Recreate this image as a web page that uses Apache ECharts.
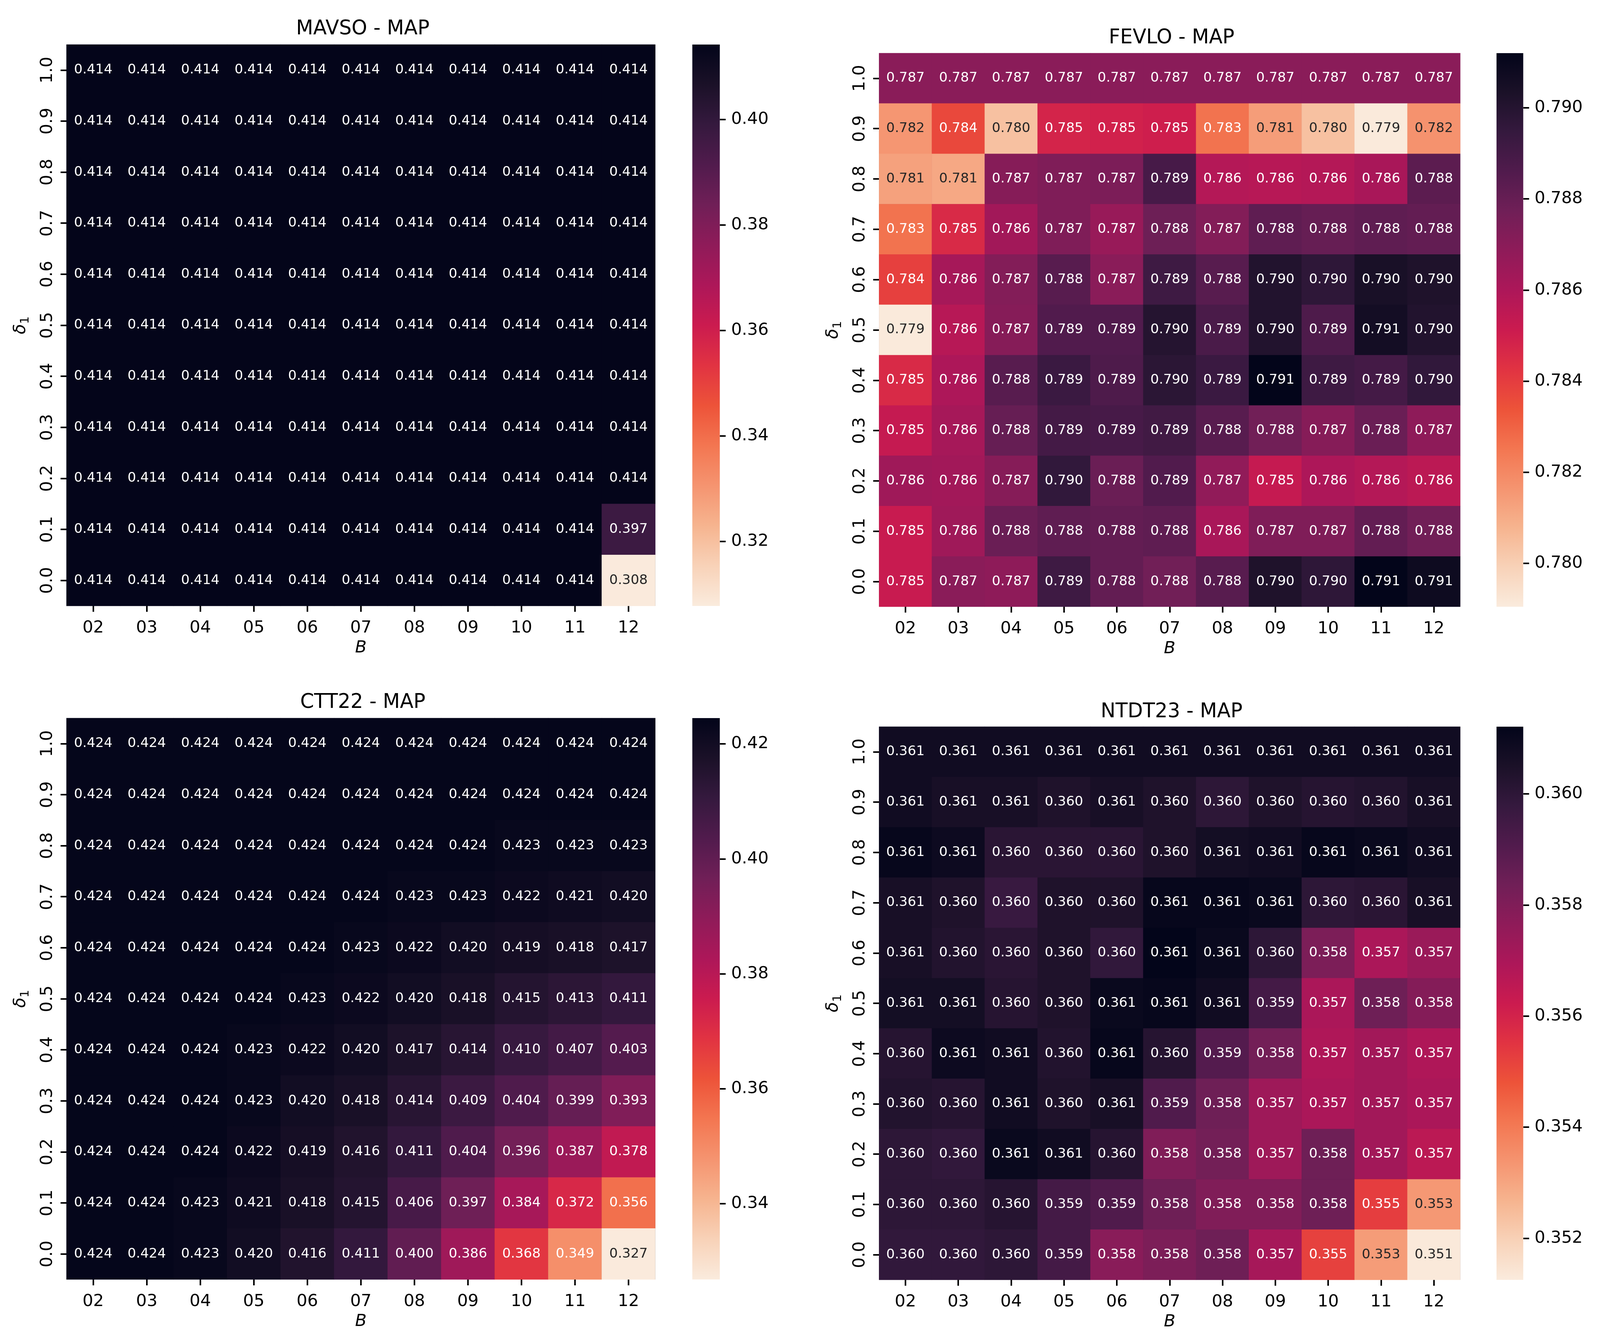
<!DOCTYPE html>
<html><head><meta charset="utf-8">
<style>html,body{margin:0;padding:0;background:#fff;overflow:hidden}#c{width:100vw;height:3435px}</style>
<script src="https://cdn.jsdelivr.net/npm/echarts@6/dist/echarts.min.js"></script>
</head><body><div id="c"></div>
<script>
const bLabels = ['02','03','04','05','06','07','08','09','10','11','12'];
const deltaLabels = ['1.0','0.9','0.8','0.7','0.6','0.5','0.4','0.3','0.2','0.1','0.0'];

const mavsoValues = [
 [.414,.414,.414,.414,.414,.414,.414,.414,.414,.414,.414],
 [.414,.414,.414,.414,.414,.414,.414,.414,.414,.414,.414],
 [.414,.414,.414,.414,.414,.414,.414,.414,.414,.414,.414],
 [.414,.414,.414,.414,.414,.414,.414,.414,.414,.414,.414],
 [.414,.414,.414,.414,.414,.414,.414,.414,.414,.414,.414],
 [.414,.414,.414,.414,.414,.414,.414,.414,.414,.414,.414],
 [.414,.414,.414,.414,.414,.414,.414,.414,.414,.414,.414],
 [.414,.414,.414,.414,.414,.414,.414,.414,.414,.414,.414],
 [.414,.414,.414,.414,.414,.414,.414,.414,.414,.414,.414],
 [.414,.414,.414,.414,.414,.414,.414,.414,.414,.414,.397],
 [.414,.414,.414,.414,.414,.414,.414,.414,.414,.414,.308]
];
const fevloValues = [
 [.7870,.7870,.7870,.7870,.7870,.7870,.7870,.7870,.7870,.7870,.7870],
 [.7816,.7837,.7804,.7848,.7849,.7850,.7826,.7814,.7804,.7791,.7817],
 [.7813,.7811,.7871,.7873,.7874,.7889,.7858,.7857,.7858,.7861,.7883],
 [.7826,.7846,.7863,.7873,.7866,.7878,.7872,.7882,.7880,.7882,.7881],
 [.7839,.7862,.7872,.7884,.7870,.7892,.7884,.7901,.7897,.7904,.7902],
 [.7791,.7857,.7871,.7886,.7886,.7900,.7888,.7901,.7887,.7906,.7901],
 [.7846,.7860,.7884,.7893,.7887,.7898,.7893,.7912,.7892,.7890,.7896],
 [.7853,.7862,.7880,.7890,.7889,.7891,.7884,.7877,.7871,.7879,.7869],
 [.7864,.7863,.7871,.7896,.7879,.7886,.7868,.7853,.7860,.7858,.7856],
 [.7852,.7864,.7879,.7882,.7881,.7882,.7861,.7873,.7873,.7881,.7877],
 [.7852,.7870,.7869,.7892,.7881,.7877,.7884,.7902,.7897,.7912,.7908]
];
const ctt22Values = [
 [.424,.424,.424,.424,.424,.424,.424,.424,.424,.424,.424],
 [.424,.424,.424,.424,.424,.424,.424,.424,.424,.424,.424],
 [.424,.424,.424,.424,.424,.424,.424,.424,.423,.423,.423],
 [.424,.424,.424,.424,.424,.424,.423,.423,.422,.421,.420],
 [.424,.424,.424,.424,.424,.423,.422,.420,.419,.418,.417],
 [.424,.424,.424,.424,.423,.422,.420,.418,.415,.413,.411],
 [.424,.424,.424,.423,.422,.420,.417,.414,.410,.407,.403],
 [.424,.424,.424,.423,.420,.418,.414,.409,.404,.399,.393],
 [.424,.424,.424,.422,.419,.416,.411,.404,.396,.387,.378],
 [.424,.424,.423,.421,.418,.415,.406,.397,.384,.372,.356],
 [.424,.424,.423,.420,.416,.411,.400,.386,.368,.349,.327]
];
const ntdt23Values = [
 [.3608,.3608,.3608,.3608,.3608,.3608,.3608,.3608,.3608,.3608,.3608],
 [.3608,.3606,.3606,.3604,.3606,.3604,.3600,.3604,.3602,.3603,.3606],
 [.3611,.3609,.3601,.3601,.3601,.3604,.3607,.3608,.3611,.3610,.3608],
 [.3606,.3604,.3597,.3604,.3604,.3611,.3611,.3610,.3600,.3601,.3606],
 [.3606,.3603,.3601,.3604,.3599,.3612,.3610,.3600,.3581,.3570,.3574],
 [.3607,.3607,.3602,.3604,.3610,.3611,.3608,.3594,.3570,.3584,.3579],
 [.3602,.3609,.3608,.3603,.3611,.3602,.3590,.3583,.3569,.3572,.3569],
 [.3603,.3602,.3608,.3604,.3606,.3591,.3584,.3573,.3570,.3572,.3570],
 [.3600,.3599,.3610,.3608,.3602,.3580,.3583,.3573,.3584,.3572,.3566],
 [.3600,.3600,.3602,.3594,.3591,.3584,.3580,.3580,.3584,.3553,.3533],
 [.3599,.3599,.3600,.3594,.3578,.3581,.3584,.3571,.3552,.3532,.3513]
];

const mavsoTicks = [.32,.34,.36,.38,.40];
const fevloTicks = [.780,.782,.784,.786,.788,.790];
const ctt22Ticks = [.34,.36,.38,.40,.42];
const ntdt23Ticks = [.352,.354,.356,.358,.360];

// rocket_r: light (low values) to dark (high values)
const rocketR = ['#faebdd','#f8d2b8','#f6b48f','#f59470','#f37651','#ed5339','#e13342','#cb1b4f','#ad1759','#8f1b59','#701f57','#511b4d','#35193e','#1b1128','#03051a'];

const panels = [
 {title:'MAVSO - MAP', values:mavsoValues, ticks:mavsoTicks, vmin:.3078, vmax:.4142, dec:2, darkAt:.33, under:'#03051a',
  left:174, right:1716, top:114, bottom:1551, cbL:1813, cbR:1885, titleY:70},
 {title:'FEVLO - MAP', values:fevloValues, ticks:fevloTicks, vmin:.77905, vmax:.7912, dec:3, darkAt:.7821, under:'#701f57',
  left:2302, right:3824, top:136, bottom:1553, cbL:3919, cbR:3989, titleY:93},
 {title:'CTT22 - MAP', values:ctt22Values, ticks:ctt22Ticks, vmin:.3268, vmax:.4245, dec:2, darkAt:.34, under:'#03051a',
  left:174, right:1716, top:1838, bottom:3275, cbL:1813, cbR:1885, titleY:1794},
 {title:'NTDT23 - MAP', values:ntdt23Values, ticks:ntdt23Ticks, vmin:.35125, vmax:.36121, dec:3, darkAt:.3535, under:'#1b1128',
  left:2302, right:3824, top:1860, bottom:3276, cbL:3919, cbR:3989, titleY:1818}
];

const W = document.documentElement.clientWidth;
const sx = W/4190;           // the window may be narrower than the reference: keep everything in frame
const FONT = 'DejaVu Sans';
const TICK = 43.5*0.99, ANN = 34.7*0.99, TTL = 52*0.975, SUB = 31;
const option = {animation:false, backgroundColor:'#fff', textStyle:{fontFamily:FONT},
  title:[], grid:[], xAxis:[], yAxis:[], visualMap:[], series:[]};

const stops = rocketR.map((c,i)=>({offset:1-i/(rocketR.length-1), color:c}));

panels.forEach((p,k)=>{
  const g = k*2, cb = k*2+1;
  option.title.push({text:p.title, left:sx*(p.left+p.right)/2, top:p.titleY, textAlign:'center', textVerticalAlign:'middle',
    textStyle:{fontFamily:FONT, fontSize:TTL, fontWeight:'normal', color:'#000'}});
  option.grid.push({left:sx*p.left, top:p.top, width:sx*(p.right-p.left), height:p.bottom-p.top, containLabel:false,
    show:true, borderWidth:0, backgroundColor:p.under});
  option.grid.push({left:sx*p.cbL, top:p.top, width:sx*(p.cbR-p.cbL), height:p.bottom-p.top, containLabel:false});
  option.xAxis.push({type:'category', gridIndex:g, data:bLabels, position:'bottom',
    axisLine:{show:false}, splitLine:{show:false}, splitArea:{show:false},
    axisTick:{show:true, alignWithLabel:true, length:15, interval:0, lineStyle:{color:'#000', width:4}},
    axisLabel:{interval:0, margin:35, fontFamily:FONT, fontSize:TICK, color:'#000'},
    name:'B', nameLocation:'middle', nameGap:86, nameMoveOverlap:false,
    nameTextStyle:{fontFamily:FONT, fontSize:TICK, fontStyle:'italic', color:'#000'}});
  option.yAxis.push({type:'category', gridIndex:g, data:deltaLabels.slice().reverse(), position:'left',
    axisLine:{show:false}, splitLine:{show:false}, splitArea:{show:false},
    axisTick:{show:true, alignWithLabel:true, length:15, interval:0, lineStyle:{color:'#000', width:4}},
    axisLabel:{interval:0, rotate:90, margin:27, fontFamily:FONT, fontSize:TICK, color:'#000'},
    name:'{i|δ}{s|1}', nameLocation:'middle', nameGap:90, nameRotate:90, nameMoveOverlap:false,
    nameTextStyle:{rich:{i:{fontFamily:FONT, fontSize:TICK, fontStyle:'italic', color:'#000', verticalAlign:'top'},
                         s:{fontFamily:FONT, fontSize:SUB, color:'#000', verticalAlign:'top', padding:[18,0,0,0]}}}});
  option.xAxis.push({type:'category', gridIndex:cb, data:[''], show:false});
  option.yAxis.push({type:'value', gridIndex:cb, position:'right', min:p.vmin, max:p.vmax, scale:true,
    axisLine:{show:false}, splitLine:{show:false},
    axisTick:{show:true, length:15, customValues:p.ticks, lineStyle:{color:'#000', width:4}},
    axisLabel:{show:true, margin:29, fontFamily:FONT, fontSize:TICK, color:'#000', customValues:p.ticks,
      formatter:v=>Number(v).toFixed(p.dec)}});
  const data = [];
  p.values.forEach((row,r)=>row.forEach((v,c)=>{
    data.push({value:[c,10-r,v], label:{color:v<=p.darkAt?'#262626':'#ffffff'}});
  }));
  option.visualMap.push({type:'continuous', show:false, seriesIndex:g, dimension:2, min:p.vmin, max:p.vmax,
    inRange:{color:rocketR}});
  option.series.push({type:'heatmap', xAxisIndex:g, yAxisIndex:g, data, progressive:0, silent:true,
    itemStyle:{borderWidth:0}, emphasis:{disabled:true},
    label:{show:true, fontFamily:FONT, fontSize:ANN, formatter:o=>o.value[2].toFixed(3)}});
  option.series.push({type:'custom', xAxisIndex:cb, yAxisIndex:cb, silent:true, clip:false, data:[[0,p.vmin,p.vmax]],
    renderItem:(params,api)=>{
      const a = api.coord([0,api.value(1)]), b = api.coord([0,api.value(2)]);
      const cs = params.coordSys;
      return {type:'rect', shape:{x:cs.x, y:b[1], width:cs.width, height:a[1]-b[1]},
        style:{fill:new echarts.graphic.LinearGradient(0,0,0,1,stops)}};
    }, encode:{x:0,y:[1,2]}});
});
const chart = echarts.init(document.getElementById('c'), null, {renderer:'canvas', width:W, height:3435, devicePixelRatio:1});
chart.setOption(option);
</script></body></html>
